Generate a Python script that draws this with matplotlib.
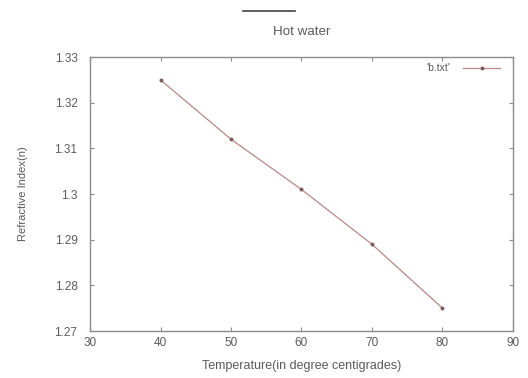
import matplotlib
matplotlib.use("Agg")
import matplotlib.pyplot as plt
from matplotlib.lines import Line2D

# Data
temperature = [40, 50, 60, 70, 80]
refractive_index = [1.325, 1.312, 1.301, 1.289, 1.275]
x_ticks = [30, 40, 50, 60, 70, 80, 90]
y_ticks = [1.27, 1.28, 1.29, 1.30, 1.31, 1.32, 1.33]
y_tick_labels = ["1.27", "1.28", "1.29", "1.3", "1.31", "1.32", "1.33"]

text_color = "#5a5a5a"
frame_color = "#8c8c8c"
line_color = "#b88888"

plt.rcParams["font.family"] = ["Liberation Sans", "DejaVu Sans"]
plt.rcParams["font.size"] = 8

fig = plt.figure(figsize=(5.28, 3.78), dpi=100)
ax = fig.add_axes([0.1705, 0.1243, 0.801, 0.7247])

ax.plot(temperature, refractive_index, color=line_color, lw=0.9,
        marker="o", ms=1.8, mfc="#7a5a5a", mec="#7a5a5a", label="'b.txt'")

ax.set_xlim(30, 90)
ax.set_ylim(1.27, 1.33)
ax.set_xticks(x_ticks)
ax.set_yticks(y_ticks)
ax.set_yticklabels(y_tick_labels)
ax.tick_params(direction="in", top=True, right=True, length=3,
               color=frame_color, labelcolor=text_color, labelsize=8.5)
ax.tick_params(axis="y", pad=9)
ax.tick_params(axis="x", pad=4)
for s in ax.spines.values():
    s.set_color(frame_color)
    s.set_linewidth(1.0)

ax.set_xlabel("Temperature(in degree centigrades)", color=text_color,
              fontsize=9, labelpad=8)
ax.set_ylabel("Refractive Index(n)", color=text_color, labelpad=19)
ax.set_title("Hot water", color=text_color, pad=16)

leg = ax.legend(loc="upper right", frameon=False, handlelength=3.6,
                markerfirst=False, fontsize=7.5, borderaxespad=0.3,
                handletextpad=1.2, borderpad=0.3,
                bbox_to_anchor=(0.985, 1.0))
for t in leg.get_texts():
    t.set_color(text_color)

# short dark stroke above the title, as in the reference
fig.add_artist(Line2D([243 / 528, 295 / 528], [1 - 11 / 378, 1 - 11 / 378],
                      color="#444444", lw=1.2))

fig.savefig("out.png", dpi=100)
plt.close(fig)
